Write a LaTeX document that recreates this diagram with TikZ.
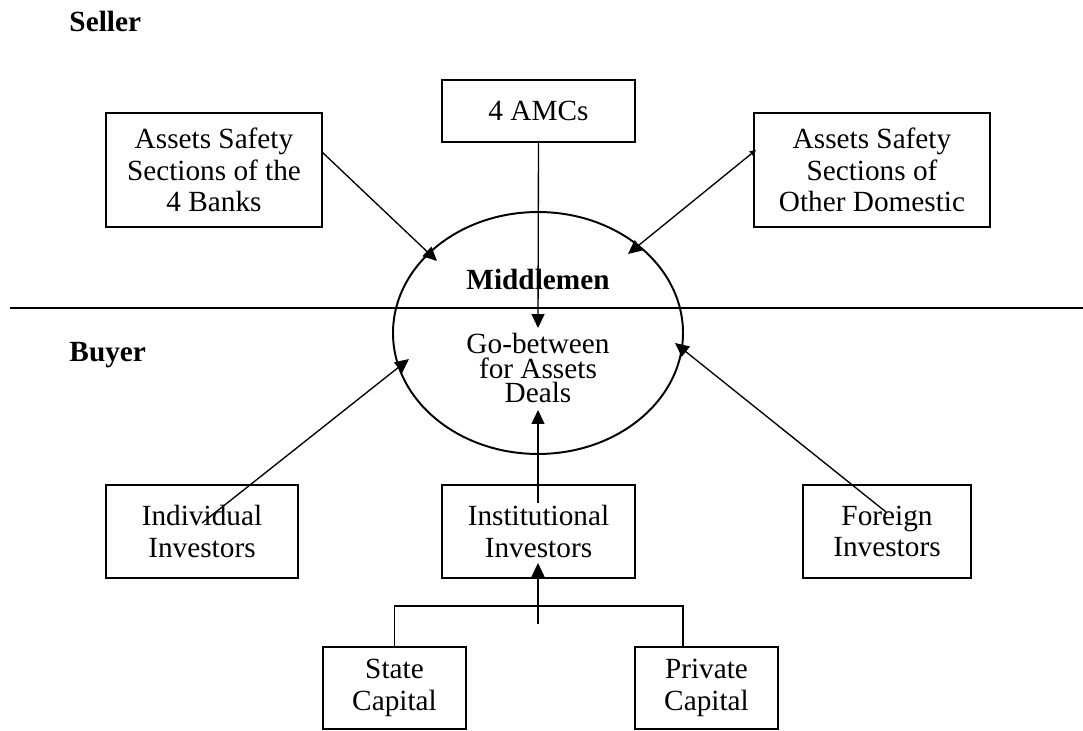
\documentclass[tikz,border=0pt]{standalone}
\usepackage{fontspec}
\setmainfont{Liberation Serif}
\usetikzlibrary{arrows.meta,shapes.geometric}
\begin{document}
\begin{tikzpicture}[x=0.41pt,y=-0.41pt,
  box/.style={draw,line width=0.8pt,align=center,inner sep=0pt,font=\fontsize{12}{13}\selectfont},
  arr/.style={line width=0.55pt,-{Triangle[length=5.7pt,width=5.3pt]}},
  dblarr/.style={line width=0.55pt,{Triangle[length=2.5pt,width=2.5pt]}-{Triangle[length=5.7pt,width=5.3pt]}},
  ln/.style={line width=0.55pt},
  lbl/.style={font=\fontsize{12}{14}\selectfont\bfseries,anchor=base west,inner sep=0pt}]
\useasboundingbox[fill=white] (0,0) rectangle (1083,731);

% labels
\node[lbl] (seller) at (69,32) {Seller};
\node[lbl] (buyer) at (69,362) {Buyer};

% divider
\coordinate (divL) at (10,308);
\coordinate (divR) at (1083,308);
\draw[ln] (divL) -- (divR);

% seller side boxes
\node[box,minimum width=88.6pt,minimum height=46.7pt] (banks) at (214,170) {Assets Safety\\Sections of the\\4 Banks};
\node[box,minimum width=79.1pt,minimum height=25.4pt] (amc) at (538.5,111) {4 AMCs};
\node[box,minimum width=96.8pt,minimum height=46.7pt] (other) at (872,170) {Assets Safety\\Sections of\\Other Domestic};

% middlemen
\node[draw,ellipse,line width=0.8pt,minimum width=118.9pt,minimum height=99.2pt,inner sep=0pt] (mid) at (538,333) {};
\node[font=\fontsize{12}{14}\selectfont\bfseries,anchor=base,inner sep=0pt] (midl) at (538,290) {Middlemen};
\node[font=\fontsize{12}{10}\selectfont,align=center,inner sep=0pt] (go) at (538,368) {Go-between\\for Assets\\Deals};

% buyer side boxes
\node[box,minimum width=78.7pt,minimum height=38.1pt] (indiv) at (202,531.5) {Individual\\Investors};
\node[box,minimum width=79.1pt,minimum height=38.1pt] (inst) at (538.5,531.5) {Institutional\\Investors};
\node[box,minimum width=68.9pt,minimum height=38.1pt] (foreign) at (887,531.5) {Foreign\\Investors};
\node[box,minimum width=58.6pt,minimum height=33.6pt] (state) at (394.5,688) {State\\Capital};
\node[box,minimum width=58.6pt,minimum height=33.6pt] (private) at (706.5,688) {Private\\Capital};

% connector end points
\coordinate (ulS) at (322,152);
\coordinate (ulT) at (437,261);
\coordinate (urS) at (756,150);
\coordinate (urT) at (628,254);
\coordinate (llS) at (202,523);
\coordinate (llT) at (409,359);
\coordinate (lrS) at (886,512);
\coordinate (lrT) at (675,343);
\coordinate (amcT) at (538,328);
\coordinate (instS) at (538,503);
\coordinate (instT) at (538,410);
\coordinate (brR) at (683,606);
\coordinate (stemS) at (538,624);
\coordinate (stemT) at (538,563);

% connectors
\draw[arr] (amc.south) -- (amcT);
\draw[arr] (ulS) -- (ulT);
\draw[dblarr] (urS) -- (urT);
\draw[arr] (llS) -- (llT);
\draw[arr] (lrS) -- (lrT);
\draw[arr] (instS) -- (instT);
\draw[ln] (state.north) |- (brR) -- (brR |- private.north);
\draw[arr] (stemS) -- (stemT);
\end{tikzpicture}
\end{document}
